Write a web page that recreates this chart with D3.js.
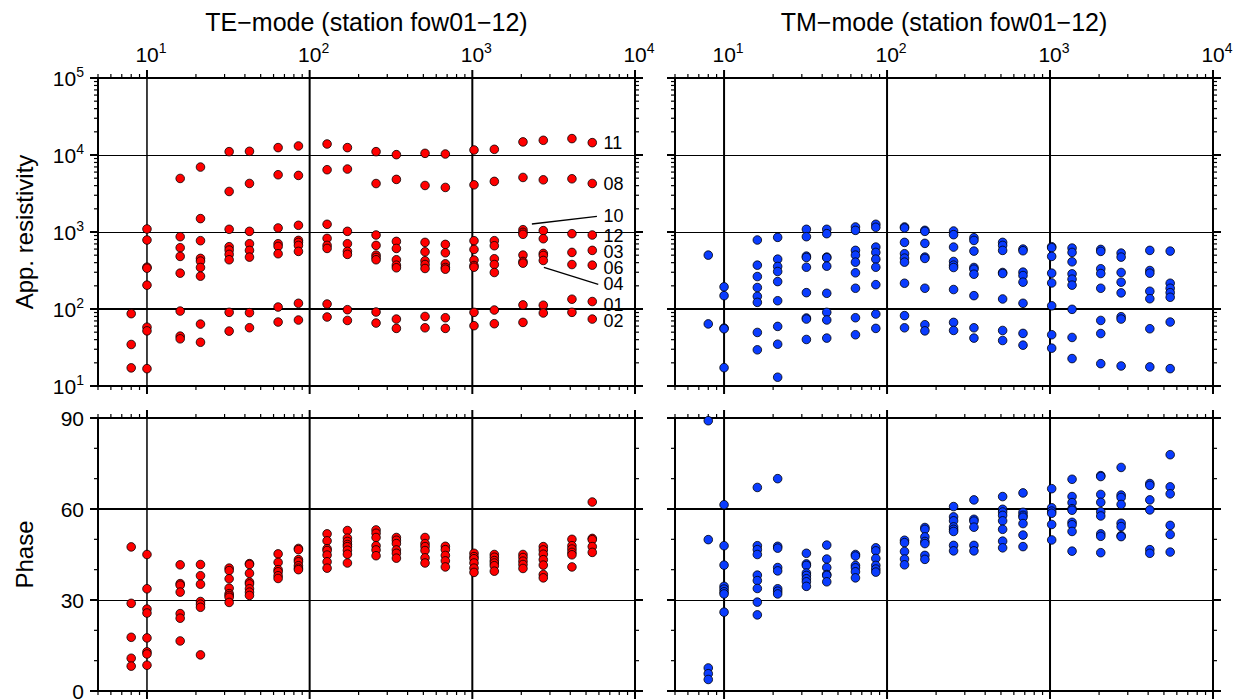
<!DOCTYPE html>
<html><head><meta charset="utf-8">
<script src="https://cdn.jsdelivr.net/npm/d3@7"></script>
<style>body{margin:0;background:#fff}svg{display:block}</style>
</head><body>
<svg id="c" width="1236" height="700"></svg>
<script>
// ---------------- DATA ----------------
const freqs = [8, 10, 16, 21.33, 32, 42.67, 64, 85.33, 128, 170.67, 256, 341.33, 512, 682.67, 1024, 1365.33, 2048, 2730.67, 4096, 5461.33];

const teRho = [
  [87, 34.6, 17.2],
  [1094, 787, 349, 339, 204, 58, 52, 16.8],
  [4960, 869, 625, 482, 292, 94, 44.4, 41],
  [6970, 1493, 771, 454, 419, 346, 267, 63.7, 37],
  [11050, 3360, 1084, 644, 582, 512, 436, 90.5, 51.6],
  [11160, 4270, 1020, 704, 577, 472, 89.6, 57.1],
  [12470, 5540, 1128, 704, 650, 522, 106, 67.7],
  [13100, 5430, 1222, 778, 733, 670, 560, 118.6, 71.9],
  [13900, 6440, 1259, 826, 670, 612, 116, 78.7],
  [12470, 6570, 1020, 704, 560, 512, 98, 71],
  [11050, 4260, 914, 670, 501, 467, 436, 91.4, 65.7],
  [10100, 4820, 755, 612, 436, 371, 343, 74, 56],
  [10510, 4020, 733, 553, 423, 378, 336, 80, 57],
  [10300, 3790, 690, 537, 386, 346, 329, 77, 56],
  [11620, 4100, 771, 594, 432, 367, 349, 90.5, 60.7],
  [11850, 4540, 771, 663, 449, 378, 298, 97, 64.4],
  [14790, 5110, 1072, 990, 933, 501, 414, 394, 113, 67],
  [15520, 4760, 1041, 818, 527, 496, 427, 112, 88.8],
  [16330, 4910, 951, 543, 378, 134, 90.5],
  [14470, 4270, 914, 577, 371, 125, 74]
];

const tmRho = [
  [501, 64],
  [194, 149, 56.5, 55.4, 17.3],
  [787, 371, 264, 190, 146, 122, 49.6, 29.5],
  [852, 444, 357, 307, 227, 128, 59.4, 34.9, 13],
  [1084, 869, 486, 467, 349, 163, 76.4, 74, 40.2],
  [1084, 951, 472, 463, 360, 160, 90.5, 72, 41.9],
  [1162, 1051, 577, 501, 406, 295, 186, 77, 46.3],
  [1259, 1151, 637, 543, 444, 349, 207, 86, 56],
  [1162, 1128, 733, 522, 458, 406, 216, 82, 57],
  [1051, 1020, 712, 472, 454, 186, 62.5, 52],
  [1030, 923, 637, 414, 371, 346, 179, 67, 52.7],
  [843, 778, 565, 346, 329, 283, 149, 57, 41.9],
  [733, 670, 577, 298, 289, 135, 52.6, 39],
  [600, 571, 301, 272, 223, 118.6, 48.2, 33.9],
  [644, 625, 482, 292, 218, 110, 46.3, 31],
  [618, 543, 410, 286, 244, 204, 99, 42.7, 22.7],
  [594, 560, 333, 289, 186, 71, 48, 19.5],
  [532, 472, 298, 223, 162, 79.4, 74, 18.2],
  [577, 316, 292, 170, 136, 55.4, 17.7],
  [565, 216, 186, 163, 142, 67.7, 16.8]
];

const tePhase = [
  [47.5, 28.9, 17.7, 10.8, 8.2],
  [45.0, 33.7, 27.0, 25.7, 17.5, 12.9, 12.2, 8.5],
  [41.6, 35.4, 34.9, 32.6, 25.5, 24.0, 16.5],
  [41.7, 38.0, 35.2, 29.5, 28.6, 27.6, 11.9],
  [40.5, 39.7, 37.0, 33.9, 32.1, 31.5, 30.9, 29.2],
  [42.0, 41.7, 38.8, 35.9, 35.3, 33.7, 32.6, 31.5],
  [45.2, 42.4, 40.0, 39.3, 38.0, 37.1],
  [47.0, 46.6, 43.3, 42.6, 41.3, 40.5, 40.0],
  [51.8, 49.5, 46.9, 46.3, 44.8, 42.6, 40.5],
  [52.9, 50.4, 49.3, 48.3, 47.6, 46.4, 45.1, 42.2],
  [53.1, 52.0, 50.6, 47.9, 46.5, 44.6],
  [50.6, 49.7, 48.6, 46.5, 45.4, 43.8],
  [50.6, 48.6, 47.6, 46.3, 43.9, 42.2],
  [47.7, 46.6, 44.7, 42.9, 40.9],
  [45.4, 44.3, 43.6, 42.2, 40.5, 39.1],
  [45.0, 44.1, 43.0, 42.2, 41.3, 39.5],
  [45.0, 44.0, 42.8, 41.7, 40.4],
  [47.6, 46.5, 45.1, 43.3, 41.5, 38.4, 37.3],
  [50.0, 47.9, 46.8, 45.7, 44.9, 40.9],
  [62.3, 50.3, 49.9, 47.6, 45.7]
];

const tmPhase = [
  [89.1, 49.9, 7.6, 5.7, 3.8],
  [61.4, 47.9, 41.5, 34.5, 33.6, 32.7, 32.0, 26.0],
  [67.1, 47.9, 46.6, 45.0, 38.2, 36.4, 33.8, 29.3, 25.1],
  [70.0, 47.7, 47.1, 40.7, 39.6, 33.7, 32.9, 32.0],
  [45.4, 41.9, 41.4, 38.9, 38.1, 37.0, 36.0, 34.5],
  [48.1, 43.5, 40.7, 38.4, 38.1, 36.0],
  [45.0, 44.5, 41.4, 40.6, 39.3, 37.3],
  [47.2, 46.2, 43.7, 41.4, 40.2, 39.2],
  [49.7, 48.9, 46.0, 43.5, 41.6],
  [53.9, 53.3, 50.8, 49.3, 48.6, 44.7, 43.4],
  [60.8, 57.4, 56.1, 54.1, 53.3, 52.6, 48.0, 46.2],
  [63.0, 56.6, 56.0, 54.0, 48.0, 46.2],
  [64.1, 59.9, 59.0, 57.9, 56.1, 53.3, 49.4, 47.2],
  [65.3, 58.9, 57.9, 57.3, 55.2, 51.4, 47.6],
  [66.7, 60.4, 59.3, 58.6, 54.9, 49.8],
  [69.8, 64.1, 62.1, 60.1, 59.6, 55.6, 54.8, 52.6, 46.1],
  [71.0, 70.7, 64.8, 62.2, 59.1, 57.7, 51.8, 51.0, 45.6],
  [73.7, 64.6, 63.8, 61.5, 55.3, 54.2, 51.2, 50.9],
  [68.4, 67.8, 63.0, 59.7, 46.6, 45.4],
  [77.9, 67.3, 65.0, 54.6, 51.6, 45.8]
];

const stationNames = ["11", "08", "10", "12", "03", "06", "04", "01", "02"];
const stationLabelRho = [14600, 4200, 1650, 900, 560, 350, 215, 115, 70];
// leader lines: [fromFreq, fromRho, toFreq, toRho]
const leaderLines = [[2323, 1271, 5834, 1600], [2754, 348, 5944, 209]];

const titles = ["TE\u2212mode (station fow01\u221212)", "TM\u2212mode (station fow01\u221212)"];
const xTickExp = [1, 2, 3, 4];
const rhoTickExp = [1, 2, 3, 4, 5];
const phaseTicks = [0, 30, 60, 90];

// ---------------- LAYOUT ----------------
const svg = d3.select("#c");
const FONT = "'Liberation Sans', Arial, Helvetica, sans-serif";
const cols = [{x0: 98, x1: 635, color: "#ff0000", rho: teRho, ph: tePhase, title: titles[0]},
              {x0: 675, x1: 1213, color: "#0a3cff", rho: tmRho, ph: tmPhase, title: titles[1]}];
const rowTop = {y0: 78, y1: 386};
const rowBot = {y0: 418, y1: 691};

const yRho = d3.scaleLog().domain([10, 1e5]).range([rowTop.y1, rowTop.y0]);
const yPh = d3.scaleLinear().domain([0, 90]).range([rowBot.y1, rowBot.y0]);

function minorLog(lo, hi) {
  const out = [];
  for (let e = Math.floor(Math.log10(lo)); e <= Math.ceil(Math.log10(hi)); e++) {
    for (let m = 1; m <= 9; m++) {
      const v = m * Math.pow(10, e);
      if (v >= lo * 0.999 && v <= hi * 1.001) out.push({v, major: m === 1});
    }
  }
  return out;
}

function supLabel(g, x, y, exp, anchor) {
  const t = g.append("text").attr("x", x).attr("y", y).attr("text-anchor", anchor)
    .attr("font-family", FONT).attr("font-size", 21).attr("fill", "#000");
  t.append("tspan").text("10");
  t.append("tspan").attr("font-size", 14).attr("dy", -9).text(exp);
}

cols.forEach((c, ci) => {
  const x = d3.scaleLog().domain([5, 1e4]).range([c.x0, c.x1]);
  const g = svg.append("g");
  const xt = minorLog(5, 1e4);

  [[rowTop, yRho, "rho"], [rowBot, yPh, "ph"]].forEach(([row, y, kind]) => {
    const gp = g.append("g");
    // vertical grid lines
    [10, 100, 1000].forEach(v => {
      gp.append("line").attr("x1", x(v)).attr("x2", x(v)).attr("y1", row.y0).attr("y2", row.y1)
        .attr("stroke", "#000").attr("stroke-width", (ci === 0 && v === 10) ? 1.5 : 2);
    });
    // horizontal grid lines
    const hv = kind === "rho" ? [100, 1000, 10000] : [30, 60];
    hv.forEach(v => {
      const thick = (v === 100 || v === 60);
      gp.append("line").attr("x1", c.x0).attr("x2", c.x1).attr("y1", y(v)).attr("y2", y(v))
        .attr("stroke", "#000").attr("stroke-width", thick ? 2 : 1)
        .attr("shape-rendering", thick ? "auto" : "crispEdges");
    });
    // x ticks top & bottom (outward)
    xt.forEach(t => {
      const L = t.major ? 8 : 4;
      gp.append("line").attr("x1", x(t.v)).attr("x2", x(t.v)).attr("y1", row.y0).attr("y2", row.y0 - L)
        .attr("stroke", "#000").attr("stroke-width", t.major ? 2 : 1.2);
      gp.append("line").attr("x1", x(t.v)).attr("x2", x(t.v)).attr("y1", row.y1).attr("y2", row.y1 + L)
        .attr("stroke", "#000").attr("stroke-width", t.major ? 2 : 1.2);
    });
    // y ticks left & right (outward)
    const yt = kind === "rho" ? minorLog(10, 1e5)
      : d3.range(0, 91, 10).map(v => ({v, major: v % 30 === 0}));
    yt.forEach(t => {
      const L = t.major ? 8 : 4;
      gp.append("line").attr("x1", c.x0).attr("x2", c.x0 - L).attr("y1", y(t.v)).attr("y2", y(t.v))
        .attr("stroke", "#000").attr("stroke-width", t.major ? 2 : 1.2);
      gp.append("line").attr("x1", c.x1).attr("x2", c.x1 + L).attr("y1", y(t.v)).attr("y2", y(t.v))
        .attr("stroke", "#000").attr("stroke-width", t.major ? 2 : 1.2);
    });
    // frame
    gp.append("rect").attr("x", c.x0).attr("y", row.y0).attr("width", c.x1 - c.x0).attr("height", row.y1 - row.y0)
      .attr("fill", "none").attr("stroke", "#000").attr("stroke-width", 2);

    // points
    const data = kind === "rho" ? c.rho : c.ph;
    const pts = [];
    data.forEach((arr, i) => arr.forEach(v => pts.push([freqs[i], v])));
    gp.selectAll("circle.p").data(pts).enter().append("circle")
      .attr("cx", d => x(d[0])).attr("cy", d => y(d[1])).attr("r", 4.3)
      .attr("fill", c.color).attr("stroke", "#000").attr("stroke-width", 0.8);
  });

  // x tick labels at top
  xTickExp.forEach(e => {
    supLabel(g, x(Math.pow(10, e)) + 4, 62, e, "middle");
  });
  // title
  g.append("text").attr("x", (c.x0 + c.x1) / 2).attr("y", 31).attr("text-anchor", "middle")
    .attr("font-family", FONT).attr("font-size", 25).text(c.title);

  if (ci === 0) {
    rhoTickExp.forEach(e => supLabel(g, c.x0 - 14, yRho(Math.pow(10, e)) + 8, e, "end"));
    phaseTicks.forEach(v => {
      g.append("text").attr("x", c.x0 - 14).attr("y", yPh(v) + 8).attr("text-anchor", "end")
        .attr("font-family", FONT).attr("font-size", 21).text(v);
    });
    // station labels
    const lx = x(6400);
    stationNames.forEach((s, i) => {
      g.append("text").attr("x", lx).attr("y", yRho(stationLabelRho[i])).attr("dy", "0.36em")
        .attr("font-family", FONT).attr("font-size", 18).text(s);
    });
    leaderLines.forEach(l => {
      g.append("line").attr("x1", x(l[0])).attr("y1", yRho(l[1])).attr("x2", x(l[2])).attr("y2", yRho(l[3]))
        .attr("stroke", "#000").attr("stroke-width", 1.3);
    });
  }
});

// axis titles
svg.append("text").attr("transform", `translate(33,${(rowTop.y0 + rowTop.y1) / 2}) rotate(-90)`)
  .attr("text-anchor", "middle").attr("font-family", FONT).attr("font-size", 24).text("App. resistivity");
svg.append("text").attr("transform", `translate(33,${(rowBot.y0 + rowBot.y1) / 2}) rotate(-90)`)
  .attr("text-anchor", "middle").attr("font-family", FONT).attr("font-size", 24).text("Phase");
</script>
</body></html>
